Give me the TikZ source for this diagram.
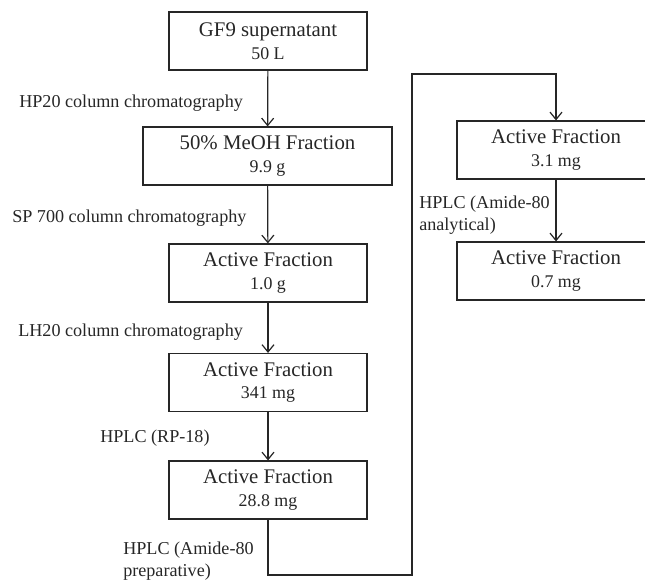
\documentclass[tikz,border=0pt]{standalone}
\usepackage{fontspec}
\setmainfont{Liberation Serif}
\usetikzlibrary{arrows.meta}
\definecolor{inkgray}{HTML}{262626}
\newcommand\amount[1]{{\fontsize{13.4}{17}\selectfont #1}}
\begin{document}
\begin{tikzpicture}[x=0.75pt,y=-0.75pt,
  fracbox/.style={draw=inkgray, line width=0.9pt, text=inkgray, align=center,
    minimum width=148.5pt, minimum height=43.5pt, inner sep=0pt,
    font=\fontsize{15.6}{17}\selectfont},
  steplabel/.style={anchor=west, text=inkgray, align=left, inner sep=0pt,
    font=\fontsize{13.6}{16}\selectfont},
  flow/.style={draw=inkgray, line width=0.9pt, -{Straight Barb[length=5.5pt,width=9pt]}}]
\useasboundingbox (0,0) rectangle (645,583);
% main column
\node[fracbox] (gf9) at (268,41) {GF9 supernatant\\\amount{50 L}};
\node[fracbox, minimum width=186.75pt] (meoh) at (267.5,156) {50\% MeOH Fraction\\\amount{9.9 g}};
\node[fracbox] (act1) at (268,273) {Active Fraction\\\amount{1.0 g}};
\node[fracbox] (act2) at (268,382.5) {Active Fraction\\\amount{341 mg}};
\node[fracbox] (act3) at (268,490) {Active Fraction\\\amount{28.8 mg}};
% right column
\node[fracbox] (act4) at (556,150) {Active Fraction\\\amount{3.1 mg}};
\node[fracbox] (act5) at (556,271) {Active Fraction\\\amount{0.7 mg}};
% step labels
\node[steplabel] (hp20) at (19,103) {HP20 column chromatography};
\node[steplabel] (sp700) at (12,218) {SP 700 column chromatography};
\node[steplabel] (lh20) at (18,332) {LH20 column chromatography};
\node[steplabel] (rp18) at (100,438) {HPLC (RP-18)};
\node[steplabel] (prep) at (123,561) {HPLC (Amide-80\\preparative)};
\node[steplabel] (anal) at (419,215) {HPLC (Amide-80\\analytical)};
% arrows
\draw[flow] (gf9) -- (meoh);
\draw[flow] (meoh) -- (act1);
\draw[flow] (act1) -- (act2);
\draw[flow] (act2) -- (act3);
\coordinate (low) at (412,575);
\coordinate (high) at (412,74);
\draw[flow] (act3.south) |- (low) -- (high) -| (act4.north);
\draw[flow] (act4) -- (act5);
\end{tikzpicture}
\end{document}
